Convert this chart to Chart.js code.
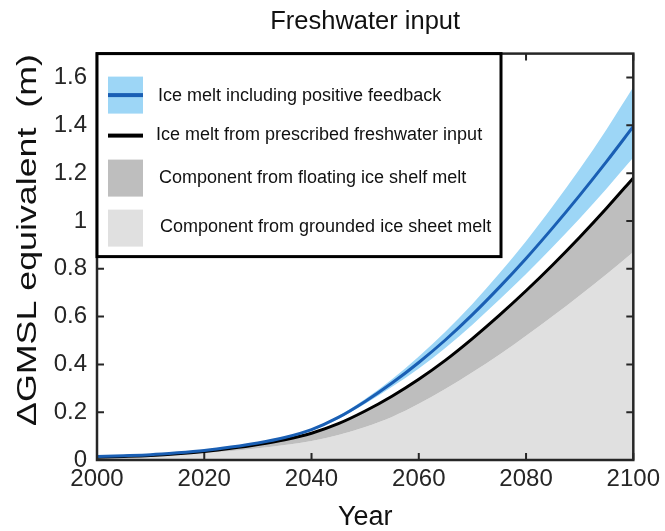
<!DOCTYPE html>
<html lang="en">
<head>
    <meta charset="UTF-8">
    <title>Freshwater input</title>
    <script src="https://cdn.jsdelivr.net/npm/chart.js"></script>
    <style>
        body {
            margin: 0;
            padding: 0;
            background: #fff;
        }
        #wrap {
            width: 665px;
            height: 531px;
        }
    </style>
</head>
<body>
    <div id="wrap"><canvas id="chart"></canvas></div>

    <script>
        // Data (metres of GMSL equivalent)
        const years = [2000, 2005, 2010, 2015, 2020, 2025, 2030, 2035, 2040, 2045, 2050,
                       2055, 2060, 2065, 2070, 2075, 2080, 2085, 2090, 2095, 2100];
        const feedback = [0.015, 0.018, 0.022, 0.030, 0.040, 0.054, 0.071, 0.094, 0.127, 0.178, 0.245,
                          0.322, 0.408, 0.503, 0.608, 0.722, 0.843, 0.972, 1.107, 1.248, 1.395];
        const feedbackHigh = [0.016, 0.019, 0.023, 0.031, 0.042, 0.056, 0.073, 0.097, 0.131, 0.184, 0.255,
                              0.338, 0.433, 0.538, 0.653, 0.780, 0.915, 1.062, 1.217, 1.383, 1.56];
        const feedbackLow = [0.014, 0.017, 0.021, 0.029, 0.038, 0.052, 0.069, 0.091, 0.123, 0.172, 0.235,
                             0.306, 0.383, 0.47, 0.566, 0.67, 0.778, 0.892, 1.01, 1.135, 1.265];
        const prescribed = [0.012, 0.015, 0.019, 0.026, 0.036, 0.049, 0.065, 0.085, 0.112, 0.152, 0.205,
                            0.267, 0.338, 0.418, 0.508, 0.605, 0.708, 0.817, 0.932, 1.053, 1.18];
        const grounded = [0.008, 0.011, 0.015, 0.021, 0.029, 0.038, 0.049, 0.063, 0.08, 0.105, 0.138,
                          0.18, 0.235, 0.298, 0.367, 0.44, 0.52, 0.602, 0.688, 0.777, 0.87];

        const legendLabels = [
            'Ice melt including positive feedback',
            'Ice melt from prescribed freshwater input',
            'Component from floating ice shelf melt',
            'Component from grounded ice sheet melt'
        ];
        const yTitle = '\u0394GMSL equivalent  (m)';

        const FONT = '"Liberation Sans", Arial, sans-serif';
        const INK = '#262626';
        const BLUE = '#1a5fb4';
        const LIGHT_BLUE = '#9dd6f6';
        const DARK_GREY = '#bebebe';
        const LIGHT_GREY = '#e0e0e0';

        const pts = arr => years.map((x, i) => ({ x: x, y: arr[i] }));

        // frame, inward ticks on all four sides, the y title and the boxed legend
        const framePlugin = {
            id: 'frame',
            afterDatasetsDraw(chart) {
                const ctx = chart.ctx;
                const a = chart.chartArea;
                const xs = chart.scales.x, ys = chart.scales.y;
                ctx.save();
                ctx.strokeStyle = INK;
                ctx.lineWidth = 2;
                ctx.beginPath();
                xs.ticks.forEach(t => {
                    const px = xs.getPixelForValue(t.value);
                    ctx.moveTo(px, a.bottom); ctx.lineTo(px, a.bottom - 7);
                    ctx.moveTo(px, a.top); ctx.lineTo(px, a.top + 7);
                });
                ys.ticks.forEach(t => {
                    const py = ys.getPixelForValue(t.value);
                    ctx.moveTo(a.left, py); ctx.lineTo(a.left + 7, py);
                    ctx.moveTo(a.right, py); ctx.lineTo(a.right - 7, py);
                });
                ctx.stroke();
                ctx.lineWidth = 2.5;
                ctx.strokeRect(a.left, a.top, a.right - a.left, a.bottom - a.top);

                // y axis title, stretched along its baseline like the original
                ctx.save();
                ctx.translate(29, 240);
                ctx.rotate(-Math.PI / 2);
                ctx.font = '27px ' + FONT;
                ctx.fillStyle = '#111';
                ctx.textAlign = 'center';
                ctx.textBaseline = 'middle';
                const w = ctx.measureText(yTitle).width;
                ctx.scale(372 / w, 1);
                ctx.fillText(yTitle, 0, 0);
                ctx.restore();

                // legend box
                const lx = a.left, ly = a.top, lw = 404, lh = 203;
                ctx.fillStyle = '#fff';
                ctx.fillRect(lx, ly, lw, lh);
                ctx.strokeStyle = '#000';
                ctx.lineWidth = 3;
                ctx.strokeRect(lx, ly, lw, lh);

                const sx = lx + 11, sw = 35;
                ctx.fillStyle = LIGHT_BLUE;
                ctx.fillRect(sx, ly + 23, sw, 37);
                ctx.fillStyle = BLUE;
                ctx.fillRect(sx, ly + 39.5, sw, 4);
                ctx.fillStyle = '#000';
                ctx.fillRect(sx, ly + 80, sw, 4);
                ctx.fillStyle = DARK_GREY;
                ctx.fillRect(sx, ly + 106, sw, 37);
                ctx.fillStyle = LIGHT_GREY;
                ctx.fillRect(sx, ly + 156, sw, 37);

                ctx.fillStyle = '#111';
                ctx.font = '18px ' + FONT;
                ctx.textBaseline = 'middle';
                ctx.textAlign = 'left';
                ctx.fillText(legendLabels[0], lx + 61, ly + 42);
                ctx.fillText(legendLabels[1], lx + 59, ly + 81);
                ctx.fillText(legendLabels[2], lx + 62, ly + 124);
                ctx.fillText(legendLabels[3], lx + 63, ly + 173);
                ctx.restore();
            }
        };

        const ctx = document.getElementById('chart').getContext('2d');
        const chart = new Chart(ctx, {
            type: 'line',
            data: {
                datasets: [
                    {
                        label: legendLabels[3],
                        data: pts(grounded),
                        borderWidth: 0,
                        backgroundColor: LIGHT_GREY,
                        fill: 'origin',
                        order: 6
                    },
                    {
                        label: legendLabels[2],
                        data: pts(prescribed),
                        borderWidth: 0,
                        backgroundColor: DARK_GREY,
                        fill: '-1',
                        order: 5
                    },
                    {
                        label: 'low',
                        data: pts(feedbackLow),
                        borderWidth: 0,
                        fill: false,
                        order: 4
                    },
                    {
                        label: 'high',
                        data: pts(feedbackHigh),
                        borderWidth: 0,
                        backgroundColor: LIGHT_BLUE,
                        fill: '-1',
                        order: 3
                    },
                    {
                        label: legendLabels[1],
                        data: pts(prescribed),
                        borderColor: '#000',
                        borderWidth: 3,
                        fill: false,
                        order: 2
                    },
                    {
                        label: legendLabels[0],
                        data: pts(feedback),
                        borderColor: BLUE,
                        borderWidth: 3,
                        fill: false,
                        order: 1
                    }
                ]
            },
            options: {
                responsive: true,
                maintainAspectRatio: false,
                animation: false,
                elements: {
                    point: { radius: 0 },
                    line: { cubicInterpolationMode: 'monotone' }
                },
                layout: {
                    padding: { left: 0, right: 29, top: 0, bottom: 0 }
                },
                plugins: {
                    legend: { display: false },
                    tooltip: { enabled: false },
                    title: {
                        display: true,
                        fullSize: false,
                        text: 'Freshwater input',
                        color: '#111',
                        font: { family: FONT, size: 25.5, weight: 'normal' },
                        padding: { top: 7, bottom: 16 }
                    }
                },
                scales: {
                    x: {
                        type: 'linear',
                        min: 2000,
                        max: 2100,
                        ticks: {
                            stepSize: 20,
                            color: INK,
                            padding: 5,
                            font: { family: FONT, size: 24 },
                            maxRotation: 0,
                            callback: v => String(v)
                        },
                        grid: { display: false, drawTicks: false },
                        border: { display: false },
                        title: {
                            display: true,
                            text: 'Year',
                            color: '#111',
                            font: { family: FONT, size: 27, lineHeight: 1 },
                            padding: { top: 0, bottom: 0 }
                        },
                        afterFit(scale) { scale.height = 71; }
                    },
                    y: {
                        min: 0,
                        max: 1.7,
                        ticks: {
                            stepSize: 0.2,
                            includeBounds: false,
                            color: INK,
                            padding: 10,
                            font: { family: FONT, size: 24 },
                            callback: v => String(Math.round(v * 10) / 10)
                        },
                        grid: { display: false, drawTicks: false },
                        border: { display: false },
                        afterFit(scale) { scale.width = 97; }
                    }
                }
            },
            plugins: [framePlugin]
        });
    </script>
</body>
</html>
